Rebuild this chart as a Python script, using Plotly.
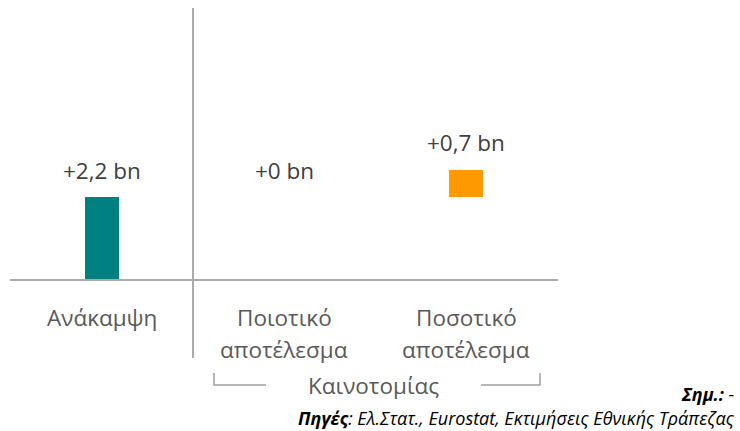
import plotly.graph_objects as go

# ---- data ----
categories = ["Ανάκαμψη", "Ποιοτικό αποτέλεσμα", "Ποσοτικό αποτέλεσμα"]
values = [2.2, 0.0, 0.73]
bar_colors = ["#008080", "#008080", "#FF9900"]
group_label = "Καινοτομίας"
note_text = "<b>Σημ.:</b> -"
source_text = "<b>Πηγές</b>: Ελ.Στατ., Eurostat, Εκτιμήσεις Εθνικής Τράπεζας"

# waterfall bases (cumulative)
bases = []
run = 0.0
for v in values:
    bases.append(run)
    run += v
tops = [b + v for b, v in zip(bases, values)]


def fmt(v):
    s = f"{v:.1f}".replace(".", ",")
    if s.endswith(",0"):
        s = s[:-2]
    return f"+{s} bn"


W, H = 740, 431
X0, X1 = 11, 557          # plot x extent in px
Y_ZERO = 280              # px of value 0
K = 37.7                  # px per unit


def px_x(p):
    return p / W


def px_y(p):
    return 1 - p / H


FONT = "Open Sans"
FS = 22.5

fig = go.Figure()
fig.add_trace(go.Bar(
    x=categories, y=values, base=bases,
    marker=dict(color=bar_colors, line=dict(width=0)),
    width=0.19, hoverinfo="skip", showlegend=False,
))

annotations = []
# value labels above bars
for c, t, v in zip(categories, tops, values):
    annotations.append(dict(
        x=c, y=t, xref="x", yref="y", text=fmt(v), showarrow=False,
        yshift=27, font=dict(family=FONT, size=FS, color="#404040"),
        xanchor="center", yanchor="middle",
    ))
# category labels (one annotation per line)
for c in categories:
    lines = c.split(" ")
    for i, line in enumerate(lines):
        annotations.append(dict(
            x=c, y=px_y(317 + 32 * i), xref="x", yref="paper", text=line,
            showarrow=False, font=dict(family=FONT, size=FS, color="#595959"),
            xanchor="center", yanchor="middle",
        ))
# group label
annotations.append(dict(
    x=px_x(374), y=px_y(385), xref="paper", yref="paper", text=group_label,
    showarrow=False, font=dict(family=FONT, size=FS, color="#595959"),
    xanchor="center", yanchor="middle",
))
# notes
annotations.append(dict(
    x=px_x(736), y=px_y(407), xref="paper", yref="paper", text="<i>" + note_text + "</i>",
    showarrow=False, font=dict(family=FONT, size=18, color="#000000"),
    xanchor="right", yanchor="bottom", borderpad=0,
))
annotations.append(dict(
    x=px_x(736), y=px_y(431), xref="paper", yref="paper", text="<i>" + source_text + "</i>",
    showarrow=False, font=dict(family=FONT, size=18, color="#000000"),
    xanchor="right", yanchor="bottom", borderpad=0,
))

line_style = dict(color="#ABABAB", width=2)
shapes = [
    # baseline
    dict(type="line", xref="paper", yref="y", x0=px_x(10), x1=px_x(558), y0=0, y1=0, line=line_style),
    # divider
    dict(type="line", xref="x", yref="paper", x0=0.5, x1=0.5, y0=px_y(8), y1=px_y(358), line=line_style),
    # bracket left
    dict(type="path", xref="paper", yref="paper",
         path=f"M {px_x(214)},{px_y(373)} L {px_x(214)},{px_y(385)} L {px_x(266)},{px_y(385)}",
         line=dict(color="#9E9E9E", width=1.5)),
    # bracket right
    dict(type="path", xref="paper", yref="paper",
         path=f"M {px_x(481)},{px_y(385)} L {px_x(540)},{px_y(385)} L {px_x(540)},{px_y(373)}",
         line=dict(color="#9E9E9E", width=1.5)),
]

fig.update_layout(
    width=W, height=H,
    margin=dict(l=0, r=0, t=0, b=0),
    paper_bgcolor="white", plot_bgcolor="white",
    xaxis=dict(type="category", domain=[px_x(X0), px_x(X1)], range=[-0.5, 2.5],
               showticklabels=False, showgrid=False, zeroline=False, showline=False, ticks=""),
    yaxis=dict(range=[-(H - Y_ZERO) / K, Y_ZERO / K], domain=[0, 1],
               showticklabels=False, showgrid=False, zeroline=False, showline=False, ticks=""),
    annotations=annotations,
    shapes=shapes,
    bargap=0,
)

fig.write_html("out.html", config={"displayModeBar": False, "staticPlot": True},
               post_script="document.body.style.margin='0';document.body.style.overflow='hidden';")
